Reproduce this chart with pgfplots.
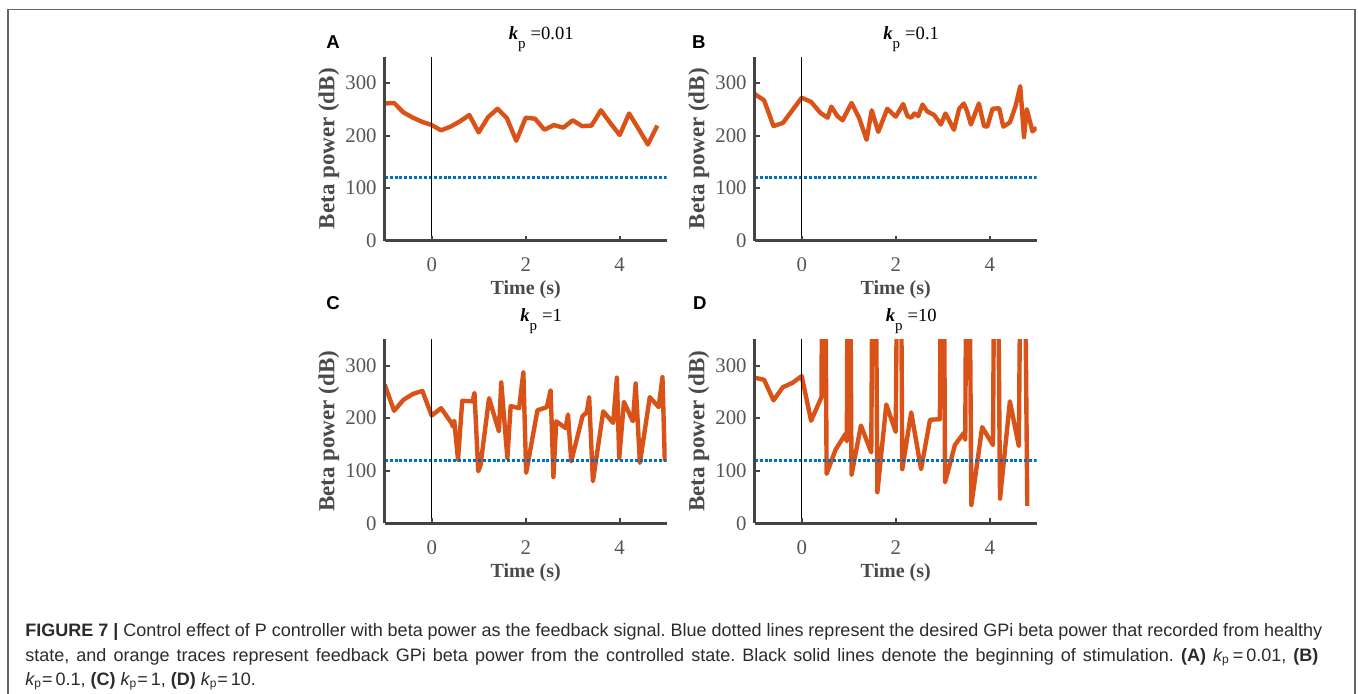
\documentclass[border=0pt]{standalone}
\usepackage{fontspec}
\setmainfont{Liberation Serif}
\newfontfamily\capfont{Liberation Sans}
\usepackage{pgfplots}
\pgfplotsset{compat=1.18}
\definecolor{morange}{HTML}{D95319}
\definecolor{mblue}{HTML}{0072BD}
\definecolor{axgray}{HTML}{444444}
\definecolor{tickgray}{HTML}{555555}
\definecolor{labgray}{HTML}{4A4A4A}
\definecolor{capgray}{HTML}{2B2B2B}
\definecolor{boxgray}{HTML}{666666}
\pgfplotsset{
  panel/.style={
    scale only axis, width=141pt, height=92pt,
    xmin=-1, xmax=5, ymin=0, ymax=350,
    xtick={0,2,4}, ytick={0,100,200,300},
    axis x line*=bottom, axis y line*=left,
    axis line style={axgray, line width=1.4pt, -},
    tick align=inside,
    major tick length=2.5pt,
    every tick/.style={axgray, line width=1pt},
    tick label style={font=\fontsize{10.4}{12}\selectfont, text=tickgray},
    /pgf/number format/assume math mode=true,
    xticklabel style={yshift=-5pt},
    yticklabel style={xshift=-0.5pt},
    xlabel={Time (s)},
    ylabel={Beta power (dB)},
    every axis x label/.style={at={([yshift=-27pt]axis description cs:0.5,0)}, anchor=base, font=\bfseries\fontsize{10}{12}\selectfont, text=labgray},
    every axis y label/.style={at={([xshift=-25.2pt]axis description cs:0,0.5)}, rotate=90, anchor=base, font=\bfseries\fontsize{11.5}{13}\selectfont, text=labgray},
    axis on top,
  },
  trace/.style={morange, line width=2.2pt, line join=round},
  goal/.style={mblue, line width=1.6pt, dash pattern=on 1.5pt off 0.95pt},
  stim/.style={black, line width=0.75pt},
}
\begin{document}
\frenchspacing
\begin{tikzpicture}
\useasboundingbox (0,0) rectangle (679pt,-346.5pt);
\draw[boxgray, line width=0.75pt] (4pt,-4.75pt) rectangle (677.5pt,-360pt);

% Panel A
\begin{axis}[panel, at={(192.35pt,-120.35pt)}, anchor=south west]
\addplot[trace] coordinates {(-1,261) (-0.8,262) (-0.6,244) (-0.4,234) (-0.2,226) (0,220) (0.2,210) (0.4,217) (0.6,227) (0.8,239) (1.0,206) (1.2,235) (1.4,251) (1.6,233) (1.8,190) (2.0,234) (2.2,232) (2.4,211) (2.6,220) (2.8,215) (3.0,229) (3.2,218) (3.4,219) (3.6,248) (3.8,224) (4.0,201) (4.2,242) (4.4,213) (4.6,183) (4.8,219)};
\addplot[goal] coordinates {(-1,120) (5,120)};
\addplot[stim] coordinates {(0,0) (0,350)};
\end{axis}

% Panel B
\begin{axis}[panel, at={(377.35pt,-120.35pt)}, anchor=south west]
\addplot[trace] coordinates {(-1,279) (-0.8,267) (-0.6,218) (-0.4,224) (-0.2,248) (0,272) (0.2,264) (0.4,243) (0.55,234) (0.63,255) (0.76,237) (0.87,229) (1.06,262) (1.22,234) (1.38,192) (1.49,248) (1.63,207) (1.82,251) (2.0,236) (2.16,260) (2.25,237) (2.33,234) (2.4,242) (2.48,237) (2.57,259) (2.67,246) (2.82,239) (2.96,221) (3.06,242) (3.24,211) (3.35,251) (3.45,261) (3.52,246) (3.6,221) (3.77,261) (3.88,218) (3.95,217) (4.06,251) (4.2,252) (4.29,217) (4.43,225) (4.55,256) (4.65,294) (4.73,197) (4.79,250) (4.91,208) (5.0,215)};
\addplot[goal] coordinates {(-1,120) (5,120)};
\addplot[stim] coordinates {(0,0) (0,350)};
\end{axis}

% Panel C
\begin{axis}[panel, at={(192.35pt,-261.65pt)}, anchor=south west]
\addplot[trace] coordinates {(-1,264) (-0.8,214) (-0.6,235) (-0.4,246) (-0.2,252) (0,205) (0.2,219) (0.42,191) (0.45,184) (0.48,195) (0.56,121) (0.65,233) (0.87,232) (0.91,248) (0.99,99) (1.04,111) (1.22,238) (1.43,175) (1.48,268) (1.61,124) (1.68,223) (1.86,219) (1.95,287) (2.01,96) (2.25,215) (2.45,221) (2.53,253) (2.59,88) (2.65,194) (2.85,181) (2.9,207) (2.97,118) (3.21,204) (3.3,211) (3.35,240) (3.43,80) (3.65,213) (3.86,191) (3.94,277) (3.99,124) (4.09,231) (4.28,194) (4.34,266) (4.43,115) (4.64,240) (4.83,221) (4.91,278) (4.96,118)};
\addplot[goal] coordinates {(-1,120) (5,120)};
\addplot[stim] coordinates {(0,0) (0,350)};
\end{axis}

% Panel D
\begin{axis}[panel, at={(377.35pt,-261.65pt)}, anchor=south west]
\addplot[trace] coordinates {(-1,277) (-0.8,273) (-0.6,234) (-0.4,259) (-0.2,267) (0,280) (0.2,195) (0.42,240) (0.47,1000) (0.53,94) (0.72,140) (0.93,170) (0.96,156) (1.0,1000) (1.06,92) (1.26,186) (1.48,135) (1.54,1000) (1.61,59) (1.8,226) (2.0,174) (2.08,1000) (2.14,103) (2.33,211) (2.54,103) (2.73,197) (2.94,198) (3.0,1000) (3.05,78) (3.26,149) (3.45,172) (3.48,159) (3.53,1000) (3.61,35) (3.84,183) (4.07,149) (4.13,1000) (4.22,47) (4.43,232) (4.62,147) (4.7,1000) (4.8,33)};
\addplot[goal] coordinates {(-1,120) (5,120)};
\addplot[stim] coordinates {(0,0) (0,350)};
\end{axis}

% Titles
\newcommand\kp[1]{\fontsize{9.3}{11}\selectfont{\bfseries\itshape k}\raisebox{-4.5pt}{\fontsize{7.5}{9}\selectfont p}\hspace{2.5pt}=#1}
\node[anchor=base, inner sep=0] at (270.6pt,-19.75pt) {\kp{0.01}};
\node[anchor=base, inner sep=0] at (455.6pt,-19.75pt) {\kp{0.1}};
\node[anchor=base, inner sep=0] at (270.6pt,-160.5pt) {\kp{1}};
\node[anchor=base, inner sep=0] at (455.6pt,-160.5pt) {\kp{10}};

% Panel letters
\node[anchor=base west, inner sep=0] at (163pt,-24.15pt) {\capfont\bfseries\fontsize{9.3}{11}\selectfont A};
\node[anchor=base west, inner sep=0] at (345.85pt,-24.15pt) {\capfont\bfseries\fontsize{9.3}{11}\selectfont B};
\node[anchor=base west, inner sep=0] at (163pt,-154.75pt) {\capfont\bfseries\fontsize{9.3}{11}\selectfont C};
\node[anchor=base west, inner sep=0] at (346.35pt,-154.75pt) {\capfont\bfseries\fontsize{9.3}{11}\selectfont D};

% Caption
\newcommand\ck{{\itshape k}\textsubscript{p}}
\node[anchor=base west, inner sep=0, text=capgray] at (12.5pt,-318pt) {\capfont\fontsize{9}{11}\selectfont\makebox[648.5pt][s]{\textbf{FIGURE 7 |} Control effect of P controller with beta power as the feedback signal. Blue dotted lines represent the desired GPi beta power that recorded from healthy}};
\node[anchor=base west, inner sep=0, text=capgray] at (12.5pt,-330.5pt) {\capfont\fontsize{9}{11}\selectfont\makebox[646.5pt][s]{state, and orange traces represent feedback GPi beta power from the controlled state. Black solid lines denote the beginning of stimulation. \textbf{(A)} \ck\,=\,0.01, \textbf{(B)}}};
\node[anchor=base west, inner sep=0, text=capgray] at (12.5pt,-342.5pt) {\capfont\fontsize{9}{11}\selectfont \ck=\,0.1, \textbf{(C)} \ck=\,1, \textbf{(D)} \ck=\,10.};
\end{tikzpicture}
\end{document}
